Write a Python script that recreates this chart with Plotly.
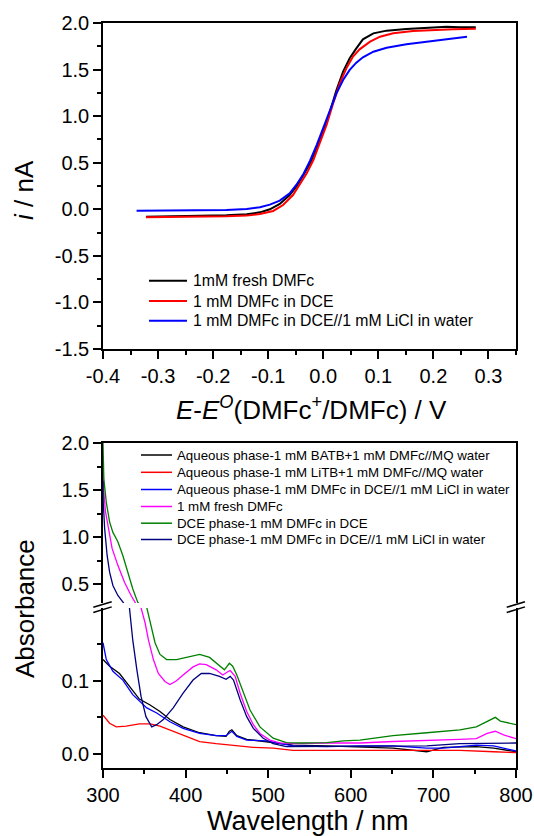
import plotly.graph_objects as go

W, H = 534, 836
FONT = "Liberation Sans, Arial, sans-serif"

# ---------------- Top panel: voltammograms ----------------
black_E = [-0.322, -0.236, -0.176, -0.139, -0.115, -0.097, -0.079, -0.061, -0.049, -0.036, -0.024, -0.012,
           0.0, 0.012, 0.024, 0.036, 0.048, 0.060, 0.072, 0.091, 0.115, 0.151, 0.188, 0.224, 0.248, 0.277]
black_i = [-0.079, -0.072, -0.065, -0.054, -0.033, 0.0, 0.057, 0.153, 0.243, 0.368, 0.493, 0.655,
           0.833, 1.048, 1.281, 1.478, 1.621, 1.728, 1.825, 1.889, 1.918, 1.936, 1.947, 1.961, 1.954, 1.954]

red_E = [-0.322, -0.236, -0.176, -0.139, -0.115, -0.091, -0.073, -0.055, -0.043, -0.030, -0.018, -0.006,
         0.006, 0.018, 0.030, 0.042, 0.054, 0.066, 0.085, 0.103, 0.127, 0.163, 0.200, 0.236, 0.277]
red_i = [-0.086, -0.083, -0.076, -0.068, -0.051, -0.018, 0.046, 0.153, 0.261, 0.386, 0.529, 0.708,
         0.905, 1.138, 1.352, 1.513, 1.639, 1.717, 1.800, 1.853, 1.889, 1.914, 1.925, 1.932, 1.939]

blue_E = [-0.339, -0.236, -0.176, -0.139, -0.115, -0.097, -0.079, -0.061, -0.049, -0.036, -0.024, -0.012,
          0.0, 0.012, 0.024, 0.036, 0.048, 0.060, 0.072, 0.091, 0.115, 0.151, 0.188, 0.224, 0.261]
blue_i = [-0.015, -0.011, -0.008, 0.003, 0.021, 0.050, 0.093, 0.171, 0.261, 0.379, 0.522, 0.690,
          0.869, 1.066, 1.245, 1.388, 1.496, 1.574, 1.632, 1.692, 1.735, 1.771, 1.800, 1.825, 1.853]

top_names = ["1mM fresh DMFc", "1 mM DMFc in DCE", "1 mM DMFc in DCE//1 mM LiCl in water"]
top_colors = ["#000000", "#ff0000", "#0000ff"]

top_xticks = [-0.4, -0.3, -0.2, -0.1, 0.0, 0.1, 0.2, 0.3]
top_xtext = ["-0.4", "-0.3", "-0.2", "-0.1", "0.0", "0.1", "0.2", "0.3"]
top_yticks = [-1.5, -1.0, -0.5, 0.0, 0.5, 1.0, 1.5, 2.0]
top_ytext = ["-1.5", "-1.0", "-0.5", "0.0", "0.5", "1.0", "1.5", "2.0"]

# ---------------- Bottom panel: UV-vis spectra ----------------
batb_wl = [300, 308, 320, 332, 344, 357, 369, 381, 397, 417, 437, 449, 453, 456, 462, 474, 498, 530,
           571, 611, 651, 692, 712, 752, 773, 800]
batb_A = [0.129, 0.120, 0.110, 0.092, 0.075, 0.067, 0.058, 0.047, 0.037, 0.029, 0.025, 0.024, 0.031,
          0.033, 0.025, 0.020, 0.017, 0.012, 0.011, 0.009, 0.008, 0.003, 0.009, 0.010, 0.008, 0.003]

litb_wl = [300, 308, 316, 328, 344, 357, 369, 385, 401, 417, 437, 458, 482, 506, 530, 571, 611, 651,
           692, 732, 773, 800]
litb_A = [0.053, 0.042, 0.037, 0.038, 0.041, 0.041, 0.038, 0.031, 0.023, 0.017, 0.014, 0.012, 0.009,
          0.008, 0.005, 0.005, 0.005, 0.005, 0.005, 0.005, 0.003, 0.002]

aqlicl_wl = [300, 304, 312, 324, 336, 353, 365, 381, 397, 417, 437, 449, 456, 462, 474, 498, 530, 571,
             611, 651, 692, 712, 752, 773, 800]
aqlicl_A = [0.152, 0.129, 0.113, 0.101, 0.081, 0.063, 0.056, 0.044, 0.035, 0.028, 0.025, 0.025, 0.031,
            0.024, 0.019, 0.018, 0.011, 0.010, 0.011, 0.011, 0.008, 0.008, 0.012, 0.011, 0.004]

fresh_wl = [300, 301, 303, 307, 311, 318, 326, 334, 339, 346, 351, 355, 361, 367, 375, 381, 389, 397,
            409, 417, 425, 437, 445, 452, 454, 460, 466, 474, 482, 490, 502, 514, 530, 571, 611, 651,
            692, 732, 752, 765, 775, 785, 800]
fresh_A = [1.80, 1.48, 1.27, 1.05, 0.88, 0.70, 0.52, 0.38, 0.31, 0.200, 0.179, 0.156, 0.129, 0.110,
           0.099, 0.095, 0.100, 0.108, 0.119, 0.123, 0.122, 0.115, 0.108, 0.113, 0.114, 0.106, 0.083,
           0.058, 0.040, 0.028, 0.019, 0.015, 0.014, 0.015, 0.015, 0.017, 0.018, 0.020, 0.021, 0.028,
           0.031, 0.026, 0.021]

dce_wl = [300, 301, 304, 308, 312, 318, 324, 330, 336, 342, 353, 357, 363, 369, 377, 389, 401, 417,
          429, 441, 447, 453, 457, 462, 470, 478, 490, 506, 522, 538, 571, 591, 611, 651, 692, 732,
          752, 769, 775, 781, 793, 800]
dce_A = [2.00, 1.62, 1.37, 1.16, 1.05, 0.95, 0.805, 0.628, 0.451, 0.309, 0.200, 0.179, 0.152, 0.136,
         0.129, 0.129, 0.132, 0.136, 0.132, 0.120, 0.115, 0.124, 0.120, 0.108, 0.083, 0.060, 0.037,
         0.0215, 0.0155, 0.015, 0.0155, 0.018, 0.019, 0.025, 0.029, 0.033, 0.037, 0.047, 0.050, 0.045,
         0.042, 0.040]

dcelicl_wl = [300, 300.3, 302, 305, 308, 312, 318, 324, 332, 336, 341, 346, 352, 359, 365, 373, 385,
              397, 409, 419, 429, 441, 449, 454, 458, 466, 474, 482, 494, 506, 522, 571, 611, 651, 692,
              732, 773, 800]
dcelicl_A = [1.60, 1.37, 1.09, 0.805, 0.628, 0.486, 0.380, 0.309, 0.200, 0.156, 0.115, 0.079, 0.051,
             0.037, 0.040, 0.047, 0.063, 0.083, 0.101, 0.110, 0.110, 0.106, 0.102, 0.106, 0.101, 0.074,
             0.051, 0.035, 0.0215, 0.014, 0.010, 0.010, 0.010, 0.010, 0.011, 0.014, 0.015, 0.015]

bot_names = ["Aqueous phase-1 mM BATB+1 mM DMFc//MQ water",
             "Aqueous phase-1 mM LiTB+1 mM DMFc//MQ water",
             "Aqueous phase-1 mM DMFc in DCE//1 mM LiCl in water",
             "1 mM fresh DMFc",
             "DCE phase-1 mM DMFc in DCE",
             "DCE phase-1 mM DMFc in DCE//1 mM LiCl in water"]
bot_colors = ["#000000", "#ff0000", "#0000ff", "#ff00ff", "#008000", "#000080"]

bot_xticks = [300, 400, 500, 600, 700, 800]
low_yticks = [0.0, 0.1]
low_ytext = ["0.0", "0.1"]
up_yticks = [0.5, 1.0, 1.5, 2.0]
up_ytext = ["0.5", "1.0", "1.5", "2.0"]


def PX(x):
    return x / W


def PY(y):
    return 1 - y / H


fig = go.Figure()

for xs, ys, nm, col in zip([black_E, red_E, blue_E], [black_i, red_i, blue_i], top_names, top_colors):
    fig.add_trace(go.Scatter(x=xs, y=ys, mode="lines", name=nm, line=dict(color=col, width=2),
                             xaxis="x", yaxis="y", showlegend=False))

bot_x = [batb_wl, litb_wl, aqlicl_wl, fresh_wl, dce_wl, dcelicl_wl]
bot_y = [batb_A, litb_A, aqlicl_A, fresh_A, dce_A, dcelicl_A]
for xs, ys, nm, col in zip(bot_x, bot_y, bot_names, bot_colors):
    for xa, ya in (("x2", "y2"), ("x3", "y3")):
        fig.add_trace(go.Scatter(x=xs, y=ys, mode="lines", name=nm, line=dict(color=col, width=1.3),
                                 xaxis=xa, yaxis=ya, showlegend=False))

tickfont = dict(family=FONT, size=20, color="black")
common = dict(showline=True, linecolor="black", linewidth=1.5, ticks="outside", ticklen=8,
              tickwidth=1.5, tickcolor="black", tickfont=tickfont, showgrid=False, zeroline=False,
              automargin=False)
XD = [PX(103), PX(516)]

fig.update_layout(
    width=W, height=H, margin=dict(l=0, r=0, t=0, b=0),
    paper_bgcolor="white", plot_bgcolor="white", showlegend=False,
    xaxis=dict(domain=XD, anchor="y", range=[-0.4, 0.35], tickmode="array", tickvals=top_xticks,
               ticktext=top_xtext, mirror=True,
               minor=dict(ticks="outside", ticklen=4, dtick=0.05, tick0=0, tickcolor="black", tickwidth=1.5),
               **common),
    yaxis=dict(domain=[PY(349), PY(23)], anchor="x", range=[-1.5, 2.0], tickmode="array",
               tickvals=top_yticks, ticktext=top_ytext, mirror=True,
               minor=dict(ticks="outside", ticklen=4, dtick=0.25, tick0=0, tickcolor="black", tickwidth=1.5),
               **common),
    xaxis2=dict(domain=XD, anchor="y2", range=[300, 800], tickmode="array", tickvals=bot_xticks,
                mirror=False,
                minor=dict(ticks="outside", ticklen=4, dtick=50, tick0=0, tickcolor="black", tickwidth=1.5),
                **common),
    yaxis2=dict(domain=[PY(768), PY(608)], anchor="x2", range=[-0.0192, 0.1995], tickmode="array",
                tickvals=low_yticks, ticktext=low_ytext, mirror=True,
                minor=dict(ticks="outside", ticklen=4, dtick=0.05, tick0=0, tickcolor="black", tickwidth=1.5),
                **common),
    xaxis3=dict(domain=XD, anchor="y3", range=[300, 800], side="top", showline=True, linecolor="black",
                linewidth=1.5, ticks="", showticklabels=False, showgrid=False, zeroline=False,
                automargin=False),
    yaxis3=dict(domain=[PY(603), PY(443)], anchor="x3", range=[0.3, 2.0], tickmode="array",
                tickvals=up_yticks, ticktext=up_ytext, mirror=True,
                minor=dict(ticks="outside", ticklen=4, dtick=0.25, tick0=0, tickcolor="black", tickwidth=1.5),
                **common),
)

shapes = []
annotations = []

# axis titles
title_font = dict(family=FONT, size=26, color="black")
annotations.append(dict(text="<i>E</i>-<i>E</i><sup><i>O</i></sup>(DMFc<sup>+</sup>/DMFc) / V",
                        x=PX(311), y=PY(408), xref="paper", yref="paper", showarrow=False,
                        xanchor="center", yanchor="middle", font=title_font))
annotations.append(dict(text="<i>i</i> / nA", x=PX(24), y=PY(190), xref="paper", yref="paper",
                        showarrow=False, textangle=-90, xanchor="center", yanchor="middle", font=title_font))
annotations.append(dict(text="Wavelength / nm", x=PX(308), y=PY(821), xref="paper", yref="paper",
                        showarrow=False, xanchor="center", yanchor="middle",
                        font=dict(family=FONT, size=27, color="black")))
annotations.append(dict(text="Absorbance", x=PX(25), y=PY(609), xref="paper", yref="paper",
                        showarrow=False, textangle=-90, xanchor="center", yanchor="middle", font=title_font))

# manual legends
top_leg_y = [280.7, 301, 320.7]
for yy, nm, col in zip(top_leg_y, top_names, top_colors):
    shapes.append(dict(type="line", xref="paper", yref="paper", x0=PX(149), x1=PX(187), y0=PY(yy), y1=PY(yy),
                       line=dict(color=col, width=2)))
    annotations.append(dict(text=nm, x=PX(191), y=PY(yy), xref="paper", yref="paper", showarrow=False,
                            xanchor="left", yanchor="middle", font=dict(family=FONT, size=15.8, color="black")))

bot_leg_y = [455, 472.3, 489.5, 506.5, 523.2, 539.5]
for yy, nm, col in zip(bot_leg_y, bot_names, bot_colors):
    shapes.append(dict(type="line", xref="paper", yref="paper", x0=PX(141), x1=PX(172), y0=PY(yy), y1=PY(yy),
                       line=dict(color=col, width=1.5)))
    annotations.append(dict(text=nm, x=PX(175), y=PY(yy), xref="paper", yref="paper", showarrow=False,
                            xanchor="left", yanchor="middle", font=dict(family=FONT, size=13.3, color="black")))

# axis break marks
for xl, xr in ((93.3, 111.7), (506.7, 525)):
    for dy in (0, 5.2):
        shapes.append(dict(type="line", xref="paper", yref="paper", x0=PX(xl), x1=PX(xr),
                           y0=PY(607.3 + dy), y1=PY(601.7 + dy), line=dict(color="black", width=1.5)))

fig.update_layout(shapes=shapes, annotations=annotations)

fig.write_html("out.html", config={"displayModeBar": False},
               post_script="document.body.style.margin='0px';document.body.style.overflow='hidden';")
